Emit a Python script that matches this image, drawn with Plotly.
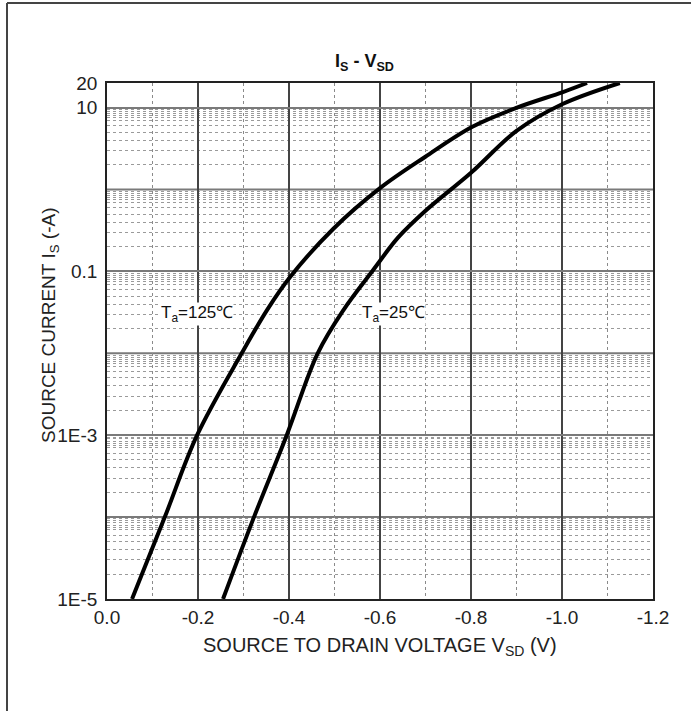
import plotly.graph_objects as go

# Forward characteristic of the body diode: source current vs. source-drain voltage
vsd_125 = [-0.055, -0.127, -0.198, -0.296, -0.352, -0.402, -0.497, -0.600, -0.699, -0.802, -0.901, -1.002, -1.055]
is_125 = [1e-5, 1e-4, 1e-3, 0.01, 0.034, 0.085, 0.33, 1.04, 2.5, 5.8, 10, 15.5, 20]

vsd_25 = [-0.255, -0.323, -0.395, -0.463, -0.520, -0.585, -0.640, -0.700, -0.800, -0.900, -1.000, -1.127]
is_25 = [1e-5, 1e-4, 1e-3, 0.01, 0.034, 0.104, 0.26, 0.55, 1.6, 5.2, 11, 20]

x_ticks = [0.0, -0.2, -0.4, -0.6, -0.8, -1.0, -1.2]
x_tick_text = ["0.0", "-0.2", "-0.4", "-0.6", "-0.8", "-1.0", "-1.2"]
x_minor = [-0.1, -0.3, -0.5, -0.7, -0.9, -1.1]

y_ticks = [1e-5, 1e-3, 1e-1, 10, 20]
y_tick_text = ["1E-5", "1E-3", "0.1", "10", "20"]
y_decades_unlabeled = [1e-4, 1e-2, 1]
y_minor_mult = [2, 3, 4, 5, 6, 7, 7.5, 8, 8.5, 9, 9.5]
y_minor = [m * 10 ** d for d in range(-5, 1) for m in y_minor_mult]

FONT = "Liberation Sans, Arial, sans-serif"
W, H = 691, 711
L, R, T, B = 107, 38, 83, 112
PW, PH = W - L - R, H - T - B


def px(xp):
    return (xp - L) / PW


def py(yp):
    return (H - B - yp) / PH


fig = go.Figure()
for xs, ys in ((vsd_125, is_125), (vsd_25, is_25)):
    fig.add_trace(go.Scatter(x=xs, y=ys, mode="lines",
                             line=dict(color="black", width=4, shape="spline", smoothing=1.0),
                             showlegend=False, cliponaxis=True))

fig.update_xaxes(
    range=[0, -1.2], tickmode="array", tickvals=x_ticks, ticktext=x_tick_text,
    showgrid=True, gridcolor="#444444", gridwidth=1.5,
    minor=dict(tickmode="array", tickvals=x_minor, showgrid=True, gridcolor="#8a8a8a", griddash="dot", gridwidth=1),
    showline=True, linecolor="#222222", linewidth=1.5, mirror=True, zeroline=False,
    ticks="", ticklabelstandoff=0, tickfont=dict(family=FONT, size=19, color="#222222"),
)
fig.update_yaxes(
    type="log", range=[-5, 1.30103], tickmode="array", tickvals=y_ticks, ticktext=y_tick_text,
    showgrid=True, gridcolor="#7a7a7a", gridwidth=2,
    minor=dict(tickmode="array", tickvals=y_minor, showgrid=True, gridcolor="#9a9a9a", griddash="dot", gridwidth=1),
    showline=True, linecolor="#222222", linewidth=1.5, mirror=True, zeroline=False,
    ticks="", ticklabelstandoff=4, tickfont=dict(family=FONT, size=19, color="#222222"),
)

shapes = [
    dict(type="line", xref="paper", yref="y", x0=0, x1=1, y0=v, y1=v, layer="below",
         line=dict(color="#7a7a7a", width=2))
    for v in y_decades_unlabeled
]
# outer frame of the figure panel (top and left edges)
shapes += [
    dict(type="line", xref="paper", yref="paper", x0=px(7), x1=px(W + 2), y0=py(3), y1=py(3),
         line=dict(color="#444444", width=2)),
    dict(type="line", xref="paper", yref="paper", x0=px(7), x1=px(7), y0=py(3), y1=py(H + 2),
         line=dict(color="#444444", width=2)),
]

annotations = [
    dict(text="<b>I<sub>S</sub> - V<sub>SD</sub></b>", x=px(364), y=py(63), xref="paper", yref="paper",
         xanchor="center", yanchor="middle", showarrow=False,
         font=dict(family=FONT, size=18, color="#111111")),
    dict(text="SOURCE TO DRAIN VOLTAGE V<sub>SD</sub> (V)", x=px(380), y=py(646), xref="paper", yref="paper",
         xanchor="center", yanchor="middle", showarrow=False,
         font=dict(family=FONT, size=20, color="#222222")),
    dict(text="SOURCE CURRENT I<sub>S</sub> (-A)", x=px(50), y=py(326), xref="paper", yref="paper",
         xanchor="center", yanchor="middle", textangle=-90, showarrow=False,
         font=dict(family=FONT, size=19, color="#222222")),
    dict(text="T<sub>a</sub>=125℃", x=-0.198, y=-1.52, xref="x", yref="y", showarrow=False,
         xanchor="center", yanchor="middle", bgcolor="white", borderpad=0,
         font=dict(family=FONT, size=17, color="#111111")),
    dict(text="T<sub>a</sub>=25℃", x=-0.629, y=-1.52, xref="x", yref="y", showarrow=False,
         xanchor="center", yanchor="middle", bgcolor="white", borderpad=0,
         font=dict(family=FONT, size=17, color="#111111")),
]

fig.update_layout(
    width=W, height=H, margin=dict(l=L, r=R, t=T, b=B),
    paper_bgcolor="white", plot_bgcolor="white",
    annotations=annotations, shapes=shapes, showlegend=False,
)

fig.write_html("out.html")
